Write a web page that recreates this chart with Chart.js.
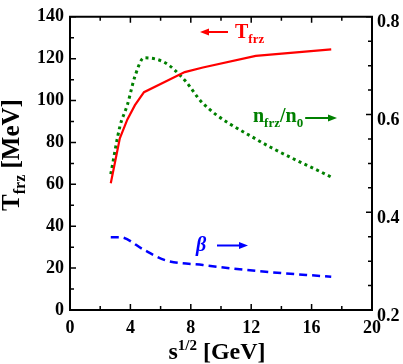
<!DOCTYPE html>
<html>
<head>
<meta charset="utf-8">
<style>
  body { margin: 0; background: #fff; }
  #wrap { position: relative; width: 403px; height: 364px; }
</style>
</head>
<body>
<div id="wrap"><canvas id="myChart"></canvas></div>
<script src="https://cdn.jsdelivr.net/npm/chart.js"></script>
<script>
// sqrt(s) in GeV
const sqrtsT    = [2.7, 3.3, 3.8, 4.3, 4.9, 6.3, 7.6, 8.8, 12.3, 17.3];
const tFrz      = [60.5, 82, 91, 97.8, 104, 109, 113.6, 115.8, 121.3, 124.4];   // MeV, left axis
const sqrtsN    = [2.7, 3.3, 3.8, 4.3, 4.9, 6.3, 7.6, 8.8, 12.3, 17.3];
const nRatio    = [0.478, 0.575, 0.62, 0.678, 0.716, 0.706, 0.67, 0.623, 0.55, 0.472]; // right axis
const sqrtsBeta = [2.7, 3.3, 4.9, 6.3, 8.8, 12.3, 17.3];
const beta      = [0.349, 0.349, 0.323, 0.302, 0.292, 0.28, 0.268];            // right axis
const xTicks  = [0, 4, 8, 12, 16, 20];
const yTicks  = [0, 20, 40, 60, 80, 100, 120, 140];
const y1Ticks = [0.2, 0.4, 0.6, 0.8];

const FONT = '"Liberation Serif", "Times New Roman", serif';
const pts = (xs, ys) => xs.map((x, i) => ({x: x, y: ys[i]}));

// draw a run of text pieces (main / sub / sup), centred on cx
function drawParts(ctx, parts, cx, cy) {
  let w = 0;
  parts.forEach(p => { ctx.font = (p.italic ? 'italic ' : '') + 'bold ' + p.size + 'px ' + FONT; p.w = ctx.measureText(p.t).width; w += p.w; });
  let x = cx - w / 2;
  parts.forEach(p => {
    ctx.font = (p.italic ? 'italic ' : '') + 'bold ' + p.size + 'px ' + FONT;
    ctx.fillText(p.t, x, cy + (p.dy || 0));
    x += p.w;
  });
}
function drawLeftStart(ctx, parts, x0, cy) {
  let x = x0;
  parts.forEach(p => {
    ctx.font = (p.italic ? 'italic ' : '') + 'bold ' + p.size + 'px ' + FONT;
    ctx.fillText(p.t, x, cy + (p.dy || 0));
    x += ctx.measureText(p.t).width;
  });
  return x;
}
function arrow(ctx, x1, y, x2, color) {
  const dir = Math.sign(x2 - x1);
  ctx.strokeStyle = color; ctx.fillStyle = color; ctx.lineWidth = 2;
  ctx.beginPath(); ctx.moveTo(x1, y); ctx.lineTo(x2 - dir * 6, y); ctx.stroke();
  ctx.beginPath(); ctx.moveTo(x2, y); ctx.lineTo(x2 - dir * 9, y - 3.5); ctx.lineTo(x2 - dir * 9, y + 3.5); ctx.closePath(); ctx.fill();
}

const decor = {
  id: 'decor',
  afterDraw(chart) {
    const ctx = chart.ctx;
    const a = chart.chartArea;
    const sx = chart.scales.x, sy = chart.scales.y, sy1 = chart.scales.y1;
    ctx.save();
    ctx.strokeStyle = '#000';
    ctx.lineWidth = 2;
    // top frame line
    ctx.beginPath(); ctx.moveTo(a.left - 1, a.top); ctx.lineTo(a.right + 1, a.top); ctx.stroke();
    // inward tick marks
    ctx.lineWidth = 1.5;
    ctx.beginPath();
    for (let v = 0; v <= 20; v += 2) {
      const px = sx.getPixelForValue(v);
      const len = v % 4 === 0 ? 6 : 4;
      ctx.moveTo(px, a.bottom); ctx.lineTo(px, a.bottom - len);
      ctx.moveTo(px, a.top); ctx.lineTo(px, a.top + len);
    }
    for (let v = 0; v <= 140; v += 10) {
      const py = sy.getPixelForValue(v);
      const len = v % 20 === 0 ? 6 : 4;
      ctx.moveTo(a.left, py); ctx.lineTo(a.left + len, py);
    }
    for (let k = 0; k <= 12; k++) {
      const v = 0.2 + k * 0.05;
      const py = sy1.getPixelForValue(v);
      const len = k % 4 === 0 ? 6 : 4;
      ctx.moveTo(a.right, py); ctx.lineTo(a.right - len, py);
    }
    ctx.stroke();

    // axis titles
    ctx.fillStyle = '#000';
    ctx.textBaseline = 'alphabetic';
    drawParts(ctx, [
      {t: 's', size: 24},
      {t: '1/2', size: 15, dy: -9},
      {t: ' [GeV]', size: 24}
    ], 217, 359);
    ctx.save();
    ctx.translate(19, 155);
    ctx.rotate(-Math.PI / 2);
    drawParts(ctx, [
      {t: 'T', size: 25},
      {t: 'frz', size: 16, dy: 6},
      {t: ' [MeV]', size: 25}
    ], 0, 0);
    ctx.restore();

    // curve labels
    ctx.fillStyle = 'rgb(255,0,0)';
    drawLeftStart(ctx, [{t: 'T', size: 20}, {t: 'frz', size: 13, dy: 5}], 235, 38);
    arrow(ctx, 228, 32, 200, 'rgb(255,0,0)');

    ctx.fillStyle = 'rgb(0,128,0)';
    const endN = drawLeftStart(ctx, [
      {t: 'n', size: 20}, {t: 'frz', size: 13, dy: 5}, {t: '/n', size: 20}, {t: '0', size: 13, dy: 5}
    ], 253, 122);
    arrow(ctx, endN + 2, 118, 337, 'rgb(0,128,0)');

    ctx.fillStyle = 'rgb(0,0,255)';
    drawLeftStart(ctx, [{t: 'β', size: 20, italic: true}], 196, 251);
    arrow(ctx, 217, 245.5, 248, 'rgb(0,0,255)');
    ctx.restore();
  }
};

const tickFont = {family: FONT, size: 18, weight: 'bold'};

new Chart(document.getElementById('myChart'), {
  type: 'line',
  data: {
    datasets: [
      {
        label: 'T_frz',
        data: pts(sqrtsT, tFrz),
        yAxisID: 'y',
        borderColor: 'rgb(255,0,0)',
        borderWidth: 2.2,
        pointRadius: 0,
        tension: 0
      },
      {
        label: 'n_frz/n_0',
        data: pts(sqrtsN, nRatio),
        yAxisID: 'y1',
        borderColor: 'rgb(0,128,0)',
        borderWidth: 3,
        borderDash: [3, 3.5],
        borderCapStyle: 'butt',
        pointRadius: 0,
        cubicInterpolationMode: 'monotone'
      },
      {
        label: 'beta',
        data: pts(sqrtsBeta, beta),
        yAxisID: 'y1',
        borderColor: 'rgb(0,0,255)',
        borderWidth: 2.5,
        borderDash: [8, 5],
        pointRadius: 0,
        cubicInterpolationMode: 'monotone'
      }
    ]
  },
  options: {
    responsive: true,
    maintainAspectRatio: false,
    animation: false,
    layout: {padding: {top: 8, left: 0, right: 0, bottom: 0}},
    plugins: {legend: {display: false}, tooltip: {enabled: false}},
    scales: {
      x: {
        type: 'linear',
        min: 0, max: 20,
        afterBuildTicks: s => { s.ticks = xTicks.map(v => ({value: v})); },
        ticks: {font: tickFont, color: '#000', padding: 8, maxRotation: 0},
        grid: {display: false, drawTicks: false},
        border: {display: true, color: '#000', width: 2},
        afterFit: s => { s.height = 54; }
      },
      y: {
        position: 'left',
        min: 0, max: 140,
        afterBuildTicks: s => { s.ticks = yTicks.map(v => ({value: v})); },
        ticks: {font: tickFont, color: '#000', padding: 6},
        grid: {display: false, drawTicks: false},
        border: {display: true, color: '#000', width: 2},
        afterFit: s => { s.width = 70; }
      },
      y1: {
        position: 'right',
        min: 0.2, max: 0.8,
        afterBuildTicks: s => { s.ticks = y1Ticks.map(v => ({value: v})); },
        ticks: {font: tickFont, color: '#000', padding: 5, labelOffset: 6,
                callback: v => v.toFixed(1)},
        grid: {display: false, drawTicks: false},
        border: {display: true, color: '#000', width: 2},
        afterFit: s => { s.width = 31; }
      }
    }
  },
  plugins: [decor]
});
</script>
</body>
</html>
